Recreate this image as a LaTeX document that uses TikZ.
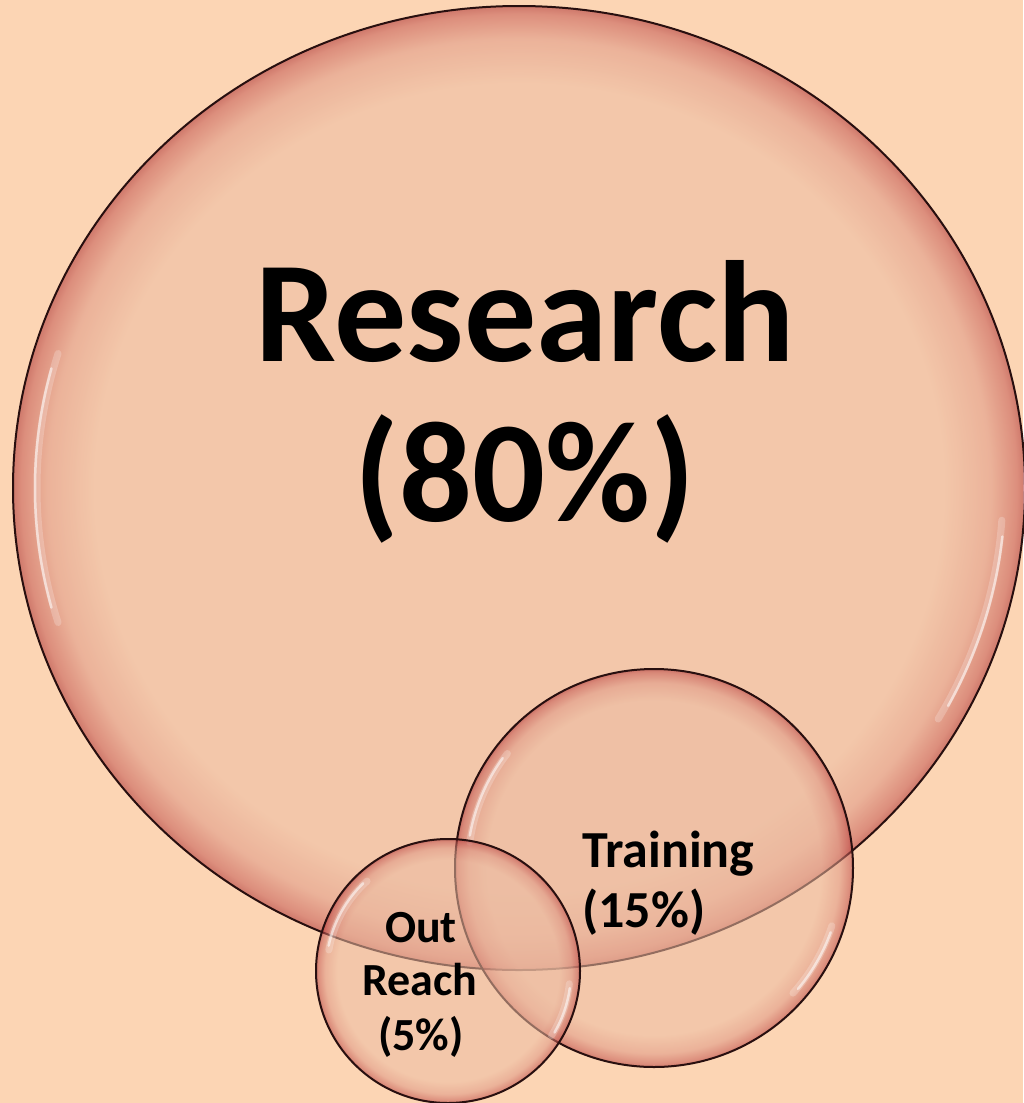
\documentclass[tikz,border=0pt]{standalone}
\usepackage{fontspec}
\setmainfont{Carlito}
\definecolor{bg}{RGB}{252,213,180}
\definecolor{bin}{RGB}{236,188,162}
\definecolor{bmid}{RGB}{222,150,132}
\definecolor{bedge}{RGB}{195,85,80}
\definecolor{brim}{RGB}{170,45,48}
\definecolor{outl}{RGB}{40,15,15}
\pgfdeclareradialshading{bubble}{\pgfpoint{0bp}{0bp}}{color(0bp)=(bin); color(21bp)=(bin); color(23.3bp)=(bmid); color(24.6bp)=(bedge); color(25bp)=(brim); color(50bp)=(brim)}
\begin{document}
\begin{tikzpicture}[x=1pt,y=-1pt,
  bubble/.style={shade,shading=bubble,fill opacity=0.55,draw=outl,draw opacity=1,line width=2pt},
  hlwide/.style={draw=white,line cap=round,draw opacity=0.22,line width=7pt},
  hlthin/.style={draw=white,line cap=round,draw opacity=0.55,line width=2.5pt},
  bigtext/.style={inner sep=0pt,anchor=base,font=\bfseries\fontsize{144}{160}\selectfont},
  midtext/.style={inner sep=0pt,anchor=base west,font=\bfseries\fontsize{52}{60}\selectfont},
  smalltext/.style={inner sep=0pt,anchor=base,font=\bfseries\fontsize{46}{55}\selectfont}]
\fill[bg] (0,0) rectangle (1023,1103);
\useasboundingbox (0,0) rectangle (1023,1103);
% big circle
\path[bubble] (519,488) ellipse [x radius=506, y radius=482];
\draw[hlwide] ([shift={(163:482 and 460)}]519,488) arc[start angle=163,end angle=197,x radius=482,y radius=460];
\draw[hlthin] ([shift={(165:484 and 462)}]519,488) arc[start angle=165,end angle=195,x radius=484,y radius=462];
\draw[hlwide] ([shift={(4:484 and 462)}]519,488) arc[start angle=4,end angle=30,x radius=484,y radius=462];
\draw[hlthin] ([shift={(6:486 and 464)}]519,488) arc[start angle=6,end angle=28,x radius=486,y radius=464];
% training circle
\path[bubble] (654,868) circle [radius=199];
\draw[hlwide] ([shift={(188:186)}]654,868) arc[start angle=188,end angle=218,radius=186];
\draw[hlthin] ([shift={(190:187)}]654,868) arc[start angle=190,end angle=216,radius=187];
\draw[hlwide] ([shift={(18:187)}]654,868) arc[start angle=18,end angle=42,radius=187];
\draw[hlthin] ([shift={(20:188)}]654,868) arc[start angle=20,end angle=40,radius=188];
% outreach circle
\path[bubble] (448,971) circle [radius=132];
\draw[hlwide] ([shift={(190:121)}]448,971) arc[start angle=190,end angle=228,radius=121];
\draw[hlthin] ([shift={(192:122)}]448,971) arc[start angle=192,end angle=226,radius=122];
\draw[hlwide] ([shift={(6:122)}]448,971) arc[start angle=6,end angle=32,radius=122];
\draw[hlthin] ([shift={(8:123)}]448,971) arc[start angle=8,end angle=30,radius=123];
% texts
\node[bigtext] (research) at (525,361) {Research};
\node[bigtext] (researchpct) at (525,521) {(80\%)};
\node[midtext] (training) at (582,867) {Training};
\node[midtext] (trainingpct) at (582,927) {(15\%)};
\node[smalltext] (out) at (421,942) {Out};
\node[smalltext] (reach) at (420,995) {Reach};
\node[smalltext] (outpct) at (421,1050) {(5\%)};
\end{tikzpicture}
\end{document}
